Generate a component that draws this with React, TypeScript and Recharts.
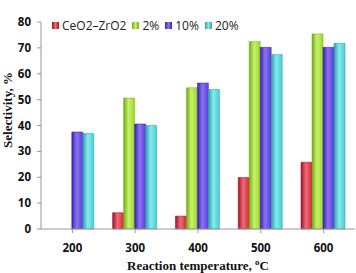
import React from 'react'
import { BarChart, Bar, XAxis, YAxis, Legend } from 'recharts'

const temps = ['200', '300', '400', '500', '600']
const ceriaZirconia = [null, 6.3, 5.0, 19.9, 25.8]
const pct2 = [null, 50.6, 54.6, 72.5, 75.4]
const pct10 = [37.5, 40.6, 56.4, 70.2, 70.2]
const pct20 = [36.9, 40.0, 53.9, 67.4, 71.8]
const yTicks = [0, 10, 20, 30, 40, 50, 60, 70, 80]

const series = [
  { key: 'ceria', name: 'CeO2–ZrO2', values: ceriaZirconia, dark: '#9e1224', mid: '#d8283c', light: '#ee6a78' },
  { key: 'p2', name: '2%', values: pct2, dark: '#6fae10', mid: '#9ada24', light: '#c8f070' },
  { key: 'p10', name: '10%', values: pct10, dark: '#3a1eb0', mid: '#5a3ce0', light: '#8a74f0' },
  { key: 'p20', name: '20%', values: pct20, dark: '#2a9fa8', mid: '#45d0d6', light: '#8ae8ec' },
]

const data = temps.map((t, i) => {
  const row: any = { temp: t }
  series.forEach((s) => { row[s.key] = s.values[i] })
  return row
})

const sans = '"Open Sans", "DejaVu Sans", sans-serif'
const serif = '"Liberation Serif", "DejaVu Serif", serif'

function LegendContent() {
  return (
    <div style={{ display: 'flex', alignItems: 'center', fontFamily: sans, fontSize: 12, color: '#222' }}>
      {series.map((s) => (
        <div key={s.key} style={{ display: 'flex', alignItems: 'center', marginRight: 6 }}>
          <span style={{ width: 7, height: 7, marginRight: 3, background: `linear-gradient(to right, ${s.dark}, ${s.light}, ${s.dark})`, display: 'inline-block' }} />
          <span>{s.name}</span>
        </div>
      ))}
    </div>
  )
}

// axis titles, placed by hand like the original figure
function XTitle() {
  return (
    <text x={198} y={270} textAnchor="middle" fill="#111" fontFamily={serif} fontSize={13} fontWeight={700}>
      Reaction temperature, <tspan fontSize={9} dy={-5}>o</tspan><tspan dy={5}>C</tspan>
    </text>
  )
}

function YTitle() {
  return (
    <text x={0} y={0} transform="translate(12,110) rotate(-90)" textAnchor="middle" fill="#111" fontFamily={serif} fontSize={13} fontWeight={700}>
      Selectivity, %
    </text>
  )
}

export default function App() {
  return (
    <div style={{ position: 'absolute', left: 0, top: 0, width: 356, height: 273, background: '#fff' }}>
      <BarChart
        width={356}
        height={273}
        data={data}
        margin={{ top: 5, right: 1, bottom: 0, left: 0 }}
        barCategoryGap="14%"
        barGap={0}
      >
        <defs>
          {series.map((s) => (
            <linearGradient key={s.key} id={`g-${s.key}`} x1="0" y1="0" x2="1" y2="0">
              <stop offset="0%" stopColor={s.dark} />
              <stop offset="45%" stopColor={s.light} />
              <stop offset="100%" stopColor={s.mid} />
            </linearGradient>
          ))}
        </defs>
        <XAxis
          dataKey="temp"
          height={44}
          stroke="#999"
          tickSize={4}
          tickMargin={11}
          tick={{ fill: '#111', fontFamily: sans, fontSize: 11.5, fontWeight: 700 }}
          label={<XTitle />}
        />
        <YAxis
          domain={[0, 80]}
          ticks={yTicks}
          width={41}
          stroke="#999"
          tickSize={4}
          tickMargin={6}
          tick={{ fill: '#111', fontFamily: sans, fontSize: 11.5, fontWeight: 700 }}
          label={<YTitle />}
        />
        <Legend
          verticalAlign="top"
          align="left"
          content={<LegendContent />}
          wrapperStyle={{ top: 17, left: 52, width: 'auto' }}
        />
        {series.map((s) => (
          <Bar
            key={s.key}
            dataKey={s.key}
            name={s.name}
            fill={`url(#g-${s.key})`}
            stroke={s.dark}
            strokeWidth={0.5}
            isAnimationActive={false}
          />
        ))}
      </BarChart>
    </div>
  )
}
